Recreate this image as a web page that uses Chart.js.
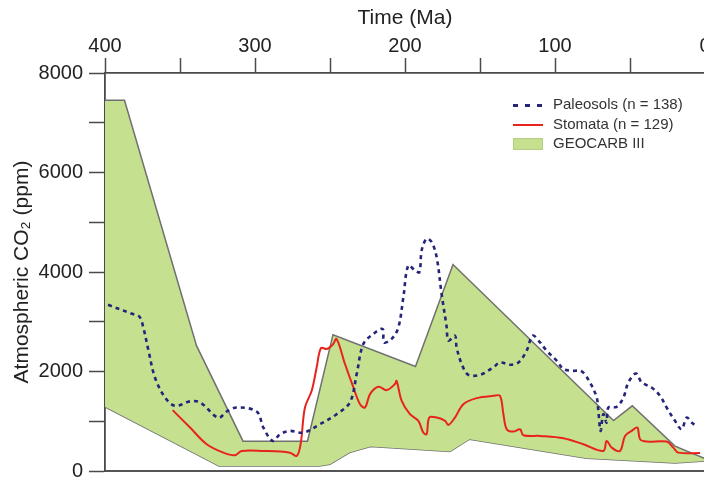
<!DOCTYPE html>
<html>
<head>
<meta charset="utf-8">
<script src="https://cdn.jsdelivr.net/npm/chart.js@4.4.0/dist/chart.umd.min.js"></script>
<style>
  html, body { margin: 0; padding: 0; overflow: hidden; background: #fff; }
  #wrap { position: absolute; left: 0; top: 0; width: 720px; height: 489px; }
  #legend { position: absolute; left: 513px; top: 94px; font: 15px "Liberation Sans", Arial, sans-serif; color: #333; }
  .row { height: 19.5px; line-height: 19.5px; white-space: nowrap; }
  .sw { display: inline-block; width: 30px; margin-right: 10px; vertical-align: middle; }
</style>
</head>
<body>
<div id="wrap">
  <canvas id="my-chart" width="720" height="489"></canvas>
  <div id="legend">
    <div class="row"><span class="sw" style="height:3px;background:repeating-linear-gradient(90deg,#24247a 0 5px,transparent 5px 12px);"></span>Paleosols (n = 138)</div>
    <div class="row"><span class="sw" style="border-top:2px solid #e8231e;"></span>Stomata (n = 129)</div>
    <div class="row"><span class="sw" style="height:12px;background:#c5e08e;border:1px solid #b5cf80;box-sizing:border-box;"></span>GEOCARB III</div>
  </div>
</div>
<script>
// time in Ma, CO2 in ppm
var paleoAge = [398, 382, 377, 374.5, 371, 366.7, 360, 353.3, 343.3, 336.7, 324.4, 318.9, 312.2, 298.9, 294.4, 288.2, 283.3, 276.7, 267.8, 256.7, 245.6, 236.7, 232.2, 227.8, 221.1, 214.9, 214, 208.9, 204.4, 201.1, 197.8, 193.3, 190.4, 188.9, 185.6, 182.2, 178.9, 175.6, 172.2, 171.1, 166.7, 165.6, 162.2, 157.8, 150, 141.1, 136.7, 130, 124.4, 118.9, 114.9, 110, 105.6, 98.9, 94.4, 88.9, 82.2, 76.7, 72.2, 71.1, 69.6, 67.8, 65.6, 64.4, 58.9, 54.4, 51.1, 46, 42.2, 35.6, 30, 25.6, 20, 15.6, 12.2, 8.9, 5.6];
var paleoCO2 = [3340, 3160, 3100, 2890, 2420, 1880, 1480, 1310, 1400, 1380, 1070, 1195, 1276, 1195, 873, 604, 739, 806, 772, 941, 1142, 1380, 1948, 2553, 2755, 2855, 2586, 2654, 2888, 3492, 4131, 4030, 3996, 4433, 4668, 4600, 4298, 3560, 2888, 2620, 2720, 2485, 2150, 1934, 1934, 2082, 2182, 2136, 2182, 2418, 2720, 2586, 2418, 2217, 2049, 2015, 2001, 1779, 1477, 1209, 806, 1142, 973, 1276, 1290, 1477, 1779, 1961, 1779, 1679, 1511, 1276, 1008, 840, 1074, 973, 900];

var stomAge = [354.9, 343.3, 332.2, 321.1, 313.3, 308.9, 294.4, 276.7, 272.2, 269.6, 266.7, 262.2, 258.9, 256, 252.2, 248.2, 245.6, 240, 234.4, 230, 226.7, 223.3, 217.8, 212.2, 206.7, 205.6, 202.2, 196.7, 191.1, 187.8, 185.6, 183.8, 178.9, 173.3, 171.1, 166.7, 161.1, 152.2, 141.1, 136.7, 134.4, 132.2, 127.8, 123.3, 121.1, 110, 94.4, 81.1, 67.8, 65.6, 62.2, 56.7, 53.3, 48.9, 45.1, 43.3, 38.9, 25.6, 21.1, 17.8, 3.3];
var stomCO2 = [1223, 873, 538, 369, 316, 403, 403, 369, 302, 538, 1276, 1612, 2082, 2472, 2452, 2539, 2653, 2150, 1679, 1344, 1276, 1545, 1692, 1626, 1747, 1813, 1410, 1142, 1008, 772, 739, 1074, 1074, 1008, 927, 1074, 1344, 1465, 1511, 1511, 1142, 840, 792, 840, 719, 705, 658, 538, 403, 604, 470, 403, 705, 806, 873, 638, 591, 591, 470, 369, 360];

var geoUpperAge = [400, 387, 339, 308, 265, 248, 193, 168, 61, 48.5, 20, 0];
var geoUpperCO2 = [7450, 7450, 2520, 600, 600, 2740, 2100, 4150, 1015, 1310, 500, 250];
var geoLowerAge = [400, 324, 257, 250, 237, 223, 170, 157, 79, 20, 0];
var geoLowerCO2 = [1290, 100, 100, 135, 370, 490, 390, 640, 256, 160, 200];

var xTicks = [400, 300, 200, 100, 0];
var yTicks = [0, 2000, 4000, 6000, 8000];

function pts(xs, ys) {
  var out = [];
  for (var i = 0; i < xs.length; i++) out.push({x: xs[i], y: ys[i]});
  return out;
}

var axisColor = '#4a4a4a';
var fontFam = '"Liberation Sans", Arial, sans-serif';

var ctx = document.getElementById('my-chart');
var chart = new Chart(ctx, {
  type: 'line',
  data: {
    datasets: [
      {
        label: 'Paleosols (n = 138)',
        data: pts(paleoAge, paleoCO2),
        borderColor: '#24247a',
        borderWidth: 2.6,
        borderDash: [4, 4],
        pointRadius: 0,
        tension: 0.35,
        fill: false
      },
      {
        label: 'Stomata (n = 129)',
        data: pts(stomAge, stomCO2),
        borderColor: '#e8231e',
        borderWidth: 2,
        pointRadius: 0,
        tension: 0.35,
        fill: false
      },
      {
        label: 'GEOCARB III',
        data: pts(geoUpperAge, geoUpperCO2),
        borderColor: '#707070',
        borderWidth: 1.5,
        backgroundColor: '#c5e08e',
        pointRadius: 0,
        tension: 0,
        fill: '+1'
      },
      {
        label: 'GEOCARB III lower',
        data: pts(geoLowerAge, geoLowerCO2),
        borderColor: '#707070',
        borderWidth: 1.5,
        pointRadius: 0,
        tension: 0,
        fill: false
      }
    ]
  },
  options: {
    responsive: false,
    animation: false,
    layout: { padding: { left: 0, top: 0, right: 15, bottom: 1 } },
    plugins: {
      legend: { display: false },
      tooltip: { enabled: false }
    },
    scales: {
      x: {
        type: 'linear',
        position: 'top',
        min: 0,
        max: 400,
        reverse: true,
        afterFit: function(s) { s.height = 73; },
        afterBuildTicks: function(s) {
          var t = [];
          for (var v = 0; v <= 400; v += 50) t.push({value: v});
          s.ticks = t;
        },
        ticks: {
          autoSkip: false,
          maxRotation: 0,
          padding: 0,
          color: '#222',
          font: { family: fontFam, size: 20 },
          callback: function(v) { return xTicks.indexOf(v) >= 0 ? String(v) : ''; }
        },
        grid: { drawOnChartArea: false, tickLength: 15, color: axisColor, tickWidth: 1.5 },
        border: { color: axisColor, width: 1.8 },
        title: {
          display: true,
          text: 'Time (Ma)',
          color: '#222',
          font: { family: fontFam, size: 21 },
          padding: { top: 6, bottom: 0 }
        }
      },
      xb: {
        type: 'linear',
        position: 'bottom',
        min: 0,
        max: 400,
        reverse: true,
        afterFit: function(s) { s.height = 0; },
        ticks: { display: false },
        grid: { display: false },
        border: { display: true, color: '#555', width: 2 }
      },
      y: {
        type: 'linear',
        min: 0,
        max: 8000,
        afterFit: function(s) { s.width = 105; },
        afterBuildTicks: function(s) {
          var t = [];
          for (var v = 0; v <= 8000; v += 1000) t.push({value: v});
          s.ticks = t;
        },
        ticks: {
          autoSkip: false,
          padding: 6,
          color: '#222',
          font: { family: fontFam, size: 20 },
          callback: function(v) { return yTicks.indexOf(v) >= 0 ? String(v) : ''; }
        },
        grid: { drawOnChartArea: false, tickLength: 16, color: axisColor, tickWidth: 1.5 },
        border: { color: axisColor, width: 1.8 },
        title: {
          display: true,
          text: 'Atmospheric CO\u2082 (ppm)',
          color: '#222',
          font: { family: fontFam, size: 21 },
          padding: { top: 10, bottom: 0 }
        }
      }
    }
  }
});
</script>
</body>
</html>
